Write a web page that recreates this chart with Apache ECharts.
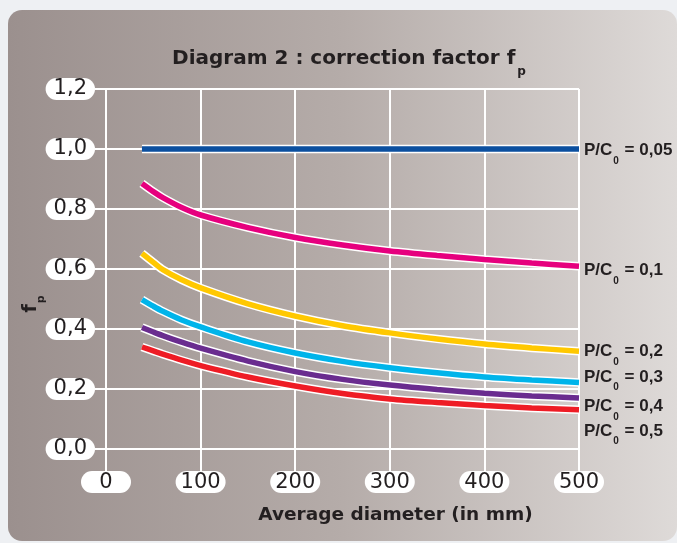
<!DOCTYPE html>
<html><head><meta charset="utf-8">
<script src="https://cdn.jsdelivr.net/npm/echarts@6/dist/echarts.min.js"></script>
<style>html,body{margin:0;padding:0;background:#eef0f3;}#c{width:677px;height:543px;}</style>
</head><body><div id="c"></div>
<script>
// ---- data ----
const diameters = [38, 50, 60, 80, 100, 150, 200, 250, 300, 350, 400, 450, 500];
const fp_005 = [1.0, 1.0, 1.0, 1.0, 1.0, 1.0, 1.0, 1.0, 1.0, 1.0, 1.0, 1.0, 1.0];
const fp_01  = [0.885, 0.858, 0.838, 0.805, 0.780, 0.738, 0.705, 0.680, 0.660, 0.645, 0.632, 0.620, 0.609];
const fp_02  = [0.652, 0.622, 0.598, 0.564, 0.537, 0.484, 0.443, 0.411, 0.387, 0.367, 0.350, 0.337, 0.326];
const fp_03  = [0.498, 0.476, 0.459, 0.430, 0.407, 0.357, 0.320, 0.292, 0.271, 0.254, 0.240, 0.230, 0.222];
const fp_04  = [0.405, 0.390, 0.378, 0.356, 0.336, 0.293, 0.258, 0.232, 0.213, 0.198, 0.186, 0.177, 0.170];
const fp_05  = [0.340, 0.327, 0.316, 0.296, 0.278, 0.240, 0.210, 0.185, 0.167, 0.155, 0.145, 0.137, 0.131];
const ratioLabels = ['0,05', '0,1', '0,2', '0,3', '0,4', '0,5'];
const yTickLabels = ['0,0', '0,2', '0,4', '0,6', '0,8', '1,0', '1,2'];

const seriesValues = [fp_005, fp_01, fp_02, fp_03, fp_04, fp_05];
const colors = ['#0b4f9f', '#e6007e', '#ffc800', '#00b4ea', '#6a2c8f', '#ee1c25'];
const labelOffsets = [[0, 2], [0, 5], [0, 1], [0, -5], [0, 9], [0, 22]];

const ink = '#231f20';
const wide = '"DejaVu Sans", Verdana, sans-serif';
const sans = '"Liberation Sans", Arial, Helvetica, sans-serif';

const chart = echarts.init(document.getElementById('c'), null, {renderer: 'canvas'});

const series = [];
seriesValues.forEach((vals, i) => {
  const d = diameters.map((x, k) => [x, vals[k]]);
  series.push({
    type: 'line', data: d, smooth: 0.3, symbol: 'none', silent: true, z: 3,
    lineStyle: {color: '#ffffff', width: 8.5, cap: 'butt'}
  });
  series.push({
    type: 'line', data: d, smooth: 0.3, symbol: 'none', silent: true, z: 4,
    lineStyle: {color: colors[i], width: 5.5, cap: 'butt'},
    endLabel: {
      show: true, distance: 5, offset: labelOffsets[i],
      formatter: '{m|P/C}{s|0}{m| = ' + ratioLabels[i] + '}',
      rich: {
        m: {fontFamily: sans, fontWeight: 'bold', fontSize: 17, color: ink, lineHeight: 18, verticalAlign: 'top'},
        s: {fontFamily: sans, fontWeight: 'bold', fontSize: 10, color: ink, lineHeight: 10, verticalAlign: 'top', padding: [14, 1, 0, 1]}
      }
    }
  });
});

const labelBox = {
  fontFamily: wide, fontSize: 21, color: ink, backgroundColor: '#ffffff',
  borderRadius: 12, lineHeight: 21
};

chart.setOption({
  animation: false,
  graphic: [{
    type: 'rect', z: -10, silent: true,
    shape: {x: 8, y: 10, width: 669, height: 531, r: 14},
    style: {fill: new echarts.graphic.LinearGradient(0, 0, 1, 0, [
      {offset: 0, color: '#9b908e'},
      {offset: 0.5, color: '#b5aca9'},
      {offset: 1, color: '#dedad8'}
    ])}
  }],
  title: {
    text: '{a|Diagram 2 : correction factor f}{b|p}',
    left: 344, top: 44, textAlign: 'center',
    textStyle: {
      rich: {
        a: {fontFamily: wide, fontWeight: 'bold', fontSize: 20, color: ink, lineHeight: 22, verticalAlign: 'top'},
        b: {fontFamily: wide, fontWeight: 'bold', fontSize: 12, color: ink, lineHeight: 12, verticalAlign: 'top', padding: [17, 0, 0, 2]}
      }
    }
  },
  grid: {left: 106, right: 98, top: 89, bottom: 94, containLabel: false},
  xAxis: {
    type: 'value', min: 0, max: 500, interval: 100,
    name: 'Average diameter (in mm)', nameLocation: 'middle', nameGap: 57, nameMoveOverlap: false,
    nameTextStyle: {fontFamily: wide, fontWeight: 'bold', fontSize: 18.5, color: ink, padding: [0, 0, 0, 106]},
    axisLine: {show: true, lineStyle: {color: '#ffffff', width: 2}},
    axisTick: {show: true, length: 22, lineStyle: {color: '#ffffff', width: 2}},
    axisLabel: Object.assign({}, labelBox, {margin: 22, width: 40, align: 'center', padding: [1, 5, 0, 5],
      formatter: v => String(v)}),
    splitLine: {show: true, lineStyle: {color: '#ffffff', width: 2}}
  },
  yAxis: {
    type: 'value', min: 0, max: 1.2, interval: 0.2,
    name: '{a|f}{b|p}', nameLocation: 'middle', nameGap: 64, nameRotate: 90, nameMoveOverlap: false,
    nameTextStyle: {
      padding: [0, 70, 0, 0],
      rich: {
        a: {fontFamily: wide, fontWeight: 'bold', fontSize: 19, color: ink, lineHeight: 20, verticalAlign: 'top'},
        b: {fontFamily: wide, fontWeight: 'bold', fontSize: 11, color: ink, lineHeight: 11, verticalAlign: 'top', padding: [14, 0, 0, 1]}
      }
    },
    axisLine: {show: true, lineStyle: {color: '#ffffff', width: 2}},
    axisTick: {show: true, length: 11, lineStyle: {color: '#ffffff', width: 2}},
    axisLabel: Object.assign({}, labelBox, {margin: 11, padding: [1, 8, 0, 8],
      formatter: v => yTickLabels[Math.round(v / 0.2)]}),
    splitLine: {show: true, lineStyle: {color: '#ffffff', width: 2}}
  },
  series: series
});
</script>
</body></html>
